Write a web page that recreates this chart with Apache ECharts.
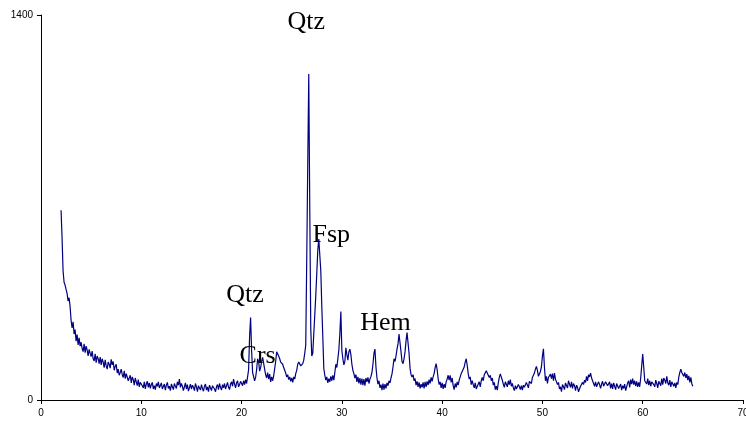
<!DOCTYPE html>
<html>
<head>
<meta charset="utf-8">
<script src="https://cdn.jsdelivr.net/npm/echarts@6/dist/echarts.min.js"></script>
<style>
  html, body { margin: 0; padding: 0; background: #ffffff; }
  #chart { width: 746px; height: 421px; }
</style>
</head>
<body>
<div id="chart"></div>
<script>
// X-ray diffraction pattern: counts sampled every 0.1 degree 2-theta, from 2.0 to 65.0
const START_ANGLE = 2.0;
const ANGLE_STEP = 0.1;
const counts = [
  // 2.x
  690, 590, 470, 428, 418, 402, 388, 360, 372, 340,
  // 3.x
  290, 262, 284, 240, 256, 214, 238, 200, 226, 196,
  // 4.x
  210, 188, 176, 204, 172, 196, 182, 160, 184, 170,
  // 5.x
  158, 178, 150, 142, 168, 136, 160, 150, 132, 156,
  // 6.x
  128, 150, 138, 118, 146, 124, 112, 138, 130, 116,
  // 7.x
  148, 128, 140, 108, 122, 130, 98, 112, 90, 100,
  // 8.x
  112, 92, 82, 106, 78, 96, 100, 70, 66, 90,
  // 9.x
  62, 84, 74, 54, 80, 66, 52, 74, 48, 64,
  // 10.x
  70, 52, 44, 66, 40, 58, 68, 46, 62, 42,
  // 11.x
  56, 64, 40, 52, 38, 60, 50, 66, 44, 48,
  // 12.x
  62, 40, 46, 58, 36, 54, 64, 42, 50, 34,
  // 13.x
  58, 48, 38, 60, 50, 42, 66, 54, 76, 46,
  // 14.x
  60, 50, 34, 48, 62, 40, 56, 32, 44, 58,
  // 15.x
  40, 54, 46, 34, 60, 48, 30, 52, 44, 36,
  // 16.x
  56, 42, 32, 50, 58, 36, 48, 30, 54, 44,
  // 17.x
  34, 52, 58, 40, 30, 48, 56, 38, 60, 46,
  // 18.x
  36, 56, 44, 60, 40, 52, 64, 46, 38, 58,
  // 19.x
  66, 50, 76, 58, 44, 62, 70, 48, 56, 68,
  // 20.x
  66, 52, 70, 56, 74, 60, 84, 110, 230, 300,
  // 21.x
  180, 100, 85, 70, 82, 110, 150, 140, 105, 118,
  // 22.x
  140, 155, 148, 112, 92, 80, 100, 76, 94, 66,
  // 23.x
  84, 70, 88, 95, 140, 175, 182, 160, 150, 138,
  // 24.x
  145, 130, 118, 108, 98, 84, 92, 74, 84, 68,
  // 25.x
  80, 64, 84, 76, 96, 108, 130, 138, 145, 124,
  // 26.x
  120, 132, 145, 170, 200, 520, 860, 1185, 700, 260,
  // 27.x
  160, 170, 240, 310, 380, 460, 545, 585, 590, 470,
  // 28.x
  340, 230, 115, 90, 72, 84, 62, 78, 66, 86,
  // 29.x
  70, 90, 72, 100, 130, 118, 150, 182, 240, 322,
  // 30.x
  180, 150, 128, 140, 190, 165, 145, 175, 185, 165,
  // 31.x
  130, 108, 96, 80, 92, 66, 84, 60, 80, 56,
  // 32.x
  78, 54, 76, 52, 80, 66, 82, 60, 76, 85,
  // 33.x
  100, 130, 170, 185, 120, 80, 58, 70, 44, 56,
  // 34.x
  36, 60, 38, 58, 42, 62, 52, 70, 62, 80,
  // 35.x
  95, 120, 150, 140, 160, 185, 205, 240, 235, 175,
  // 36.x
  140, 132, 150, 175, 215, 245, 240, 170, 115, 92,
  // 37.x
  84, 92, 70, 78, 54, 68, 48, 64, 42, 58,
  // 38.x
  46, 64, 42, 66, 48, 68, 54, 74, 60, 82,
  // 39.x
  68, 84, 96, 118, 132, 110, 78, 56, 66, 44,
  // 40.x
  62, 40, 58, 44, 66, 76, 90, 72, 90, 64,
  // 41.x
  80, 52, 38, 60, 46, 66, 54, 72, 70, 96,
  // 42.x
  104, 112, 120, 138, 150, 126, 96, 76, 84, 56,
  // 43.x
  70, 56, 44, 62, 40, 36, 58, 66, 48, 70,
  // 44.x
  82, 70, 92, 86, 106, 98, 104, 82, 90, 70,
  // 45.x
  80, 54, 64, 38, 50, 36, 62, 82, 95, 90,
  // 46.x
  72, 58, 46, 66, 60, 48, 70, 56, 74, 50,
  // 47.x
  60, 44, 34, 52, 40, 36, 56, 48, 38, 52,
  // 48.x
  36, 54, 46, 40, 64, 58, 44, 68, 72, 60,
  // 49.x
  82, 76, 98, 112, 122, 108, 86, 92, 104, 120,
  // 50.x
  160, 186, 120, 70, 86, 60, 82, 76, 94, 78,
  // 51.x
  96, 70, 98, 76, 82, 56, 64, 40, 48, 30,
  // 52.x
  56, 48, 38, 62, 66, 44, 70, 58, 46, 66,
  // 53.x
  42, 60, 52, 34, 54, 46, 30, 26, 50, 44,
  // 54.x
  64, 56, 72, 64, 86, 70, 92, 84, 98, 80,
  // 55.x
  76, 60, 50, 66, 48, 44, 66, 56, 42, 58,
  // 56.x
  68, 50, 44, 66, 70, 52, 46, 66, 42, 60,
  // 57.x
  40, 62, 56, 38, 60, 64, 42, 50, 58, 36,
  // 58.x
  52, 42, 58, 34, 48, 62, 70, 46, 74, 58,
  // 59.x
  78, 56, 70, 50, 68, 48, 64, 48, 80, 125,
  // 60.x
  167, 120, 70, 76, 58, 78, 54, 70, 50, 66,
  // 61.x
  70, 56, 48, 72, 60, 44, 68, 74, 52, 78,
  // 62.x
  56, 80, 72, 60, 86, 62, 54, 72, 48, 66,
  // 63.x
  66, 50, 62, 44, 64, 56, 84, 100, 112, 100,
  // 64.x
  104, 86, 100, 80, 94, 72, 88, 64, 82, 58,
  // 65.0
  50
];

// Axis tick values
const xTicks = [0, 10, 20, 30, 40, 50, 60, 70];
const yTicks = [0, 1400];

// Phase identifications, anchored at [2-theta, counts]
const phaseNames = ['Qtz', 'Fsp', 'Qtz', 'Crs', 'Hem'];
const phaseAnchors = [[26.45, 1375], [28.95, 598], [20.35, 383], [21.6, 160], [34.35, 278]];

const points = counts.map((c, i) => [+(START_ANGLE + i * ANGLE_STEP).toFixed(1), c]);

const chart = echarts.init(document.getElementById('chart'), null, { renderer: 'canvas' });

const axisFont = { fontFamily: '"Liberation Sans", Arial, sans-serif', fontSize: 10, color: '#000000' };

chart.setOption({
  animation: false,
  backgroundColor: '#ffffff',
  grid: { left: 41, right: 3, top: 15, bottom: 21, containLabel: false, outerBoundsMode: 'none' },
  xAxis: {
    type: 'value',
    min: xTicks[0],
    max: xTicks[xTicks.length - 1],
    interval: xTicks[1] - xTicks[0],
    axisLine: { onZero: false, lineStyle: { color: '#000000', width: 1 } },
    axisTick: { show: true, length: 4, lineStyle: { color: '#000000' } },
    axisLabel: Object.assign({ margin: 8, showMaxLabel: true, formatter: v => String(v) }, axisFont),
    splitLine: { show: false }
  },
  yAxis: {
    type: 'value',
    min: yTicks[0],
    max: yTicks[yTicks.length - 1],
    interval: yTicks[1] - yTicks[0],
    axisLine: { show: true, lineStyle: { color: '#000000', width: 1 } },
    axisTick: { show: true, length: 4, lineStyle: { color: '#000000' } },
    axisLabel: Object.assign({ margin: 8, formatter: v => String(v) }, axisFont),
    splitLine: { show: false }
  },
  series: [{
    type: 'line',
    data: points,
    showSymbol: false,
    symbol: 'none',
    smooth: false,
    lineStyle: { color: '#000080', width: 1.2 },
    markPoint: {
      symbol: 'circle',
      symbolSize: 1,
      itemStyle: { color: 'rgba(0,0,0,0)' },
      label: {
        show: true,
        position: 'inside',
        formatter: p => p.name,
        fontFamily: '"Liberation Serif", "Times New Roman", serif',
        fontSize: 26,
        color: '#000000'
      },
      data: phaseNames.map((n, i) => ({ name: n, coord: phaseAnchors[i] }))
    }
  }]
});
</script>
</body>
</html>
